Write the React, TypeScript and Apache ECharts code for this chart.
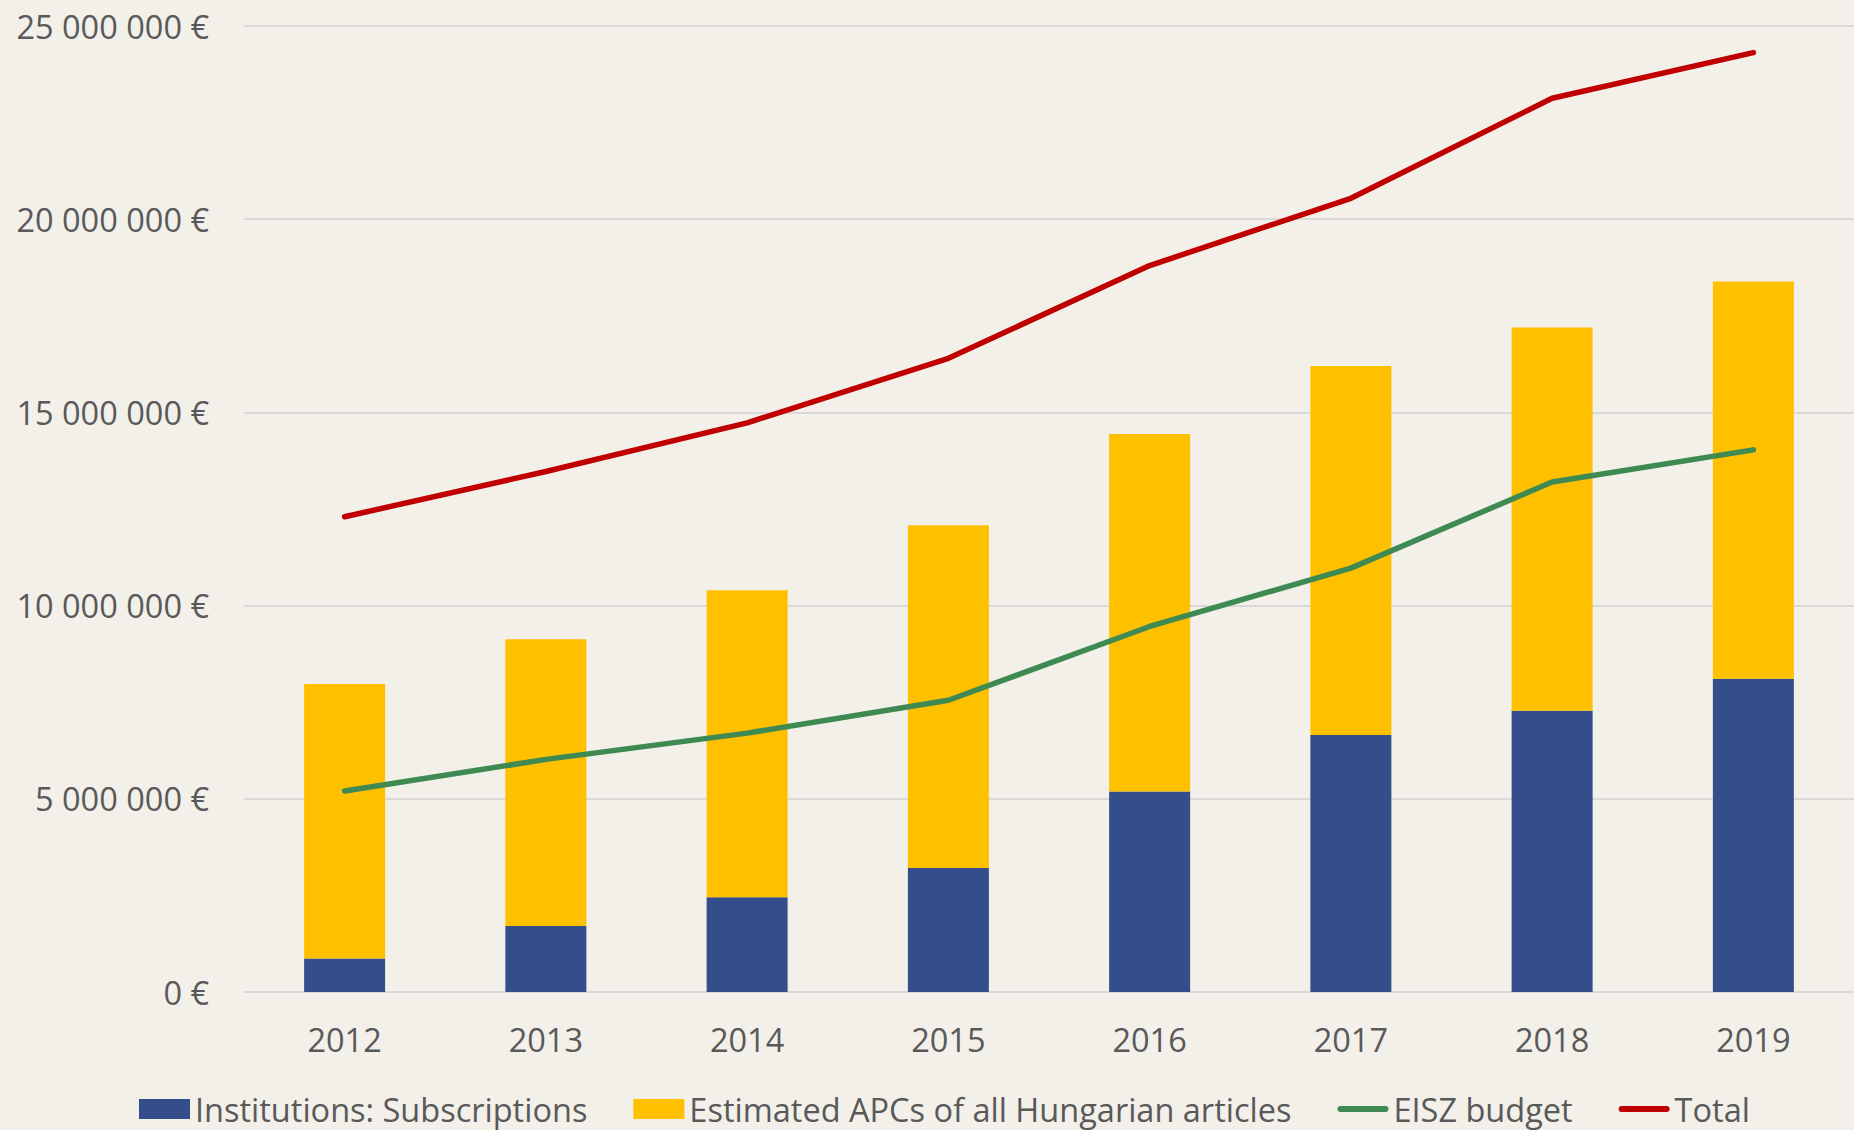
import React, { useEffect, useRef } from "react";
import * as echarts from "echarts";

const categories = ["2012", "2013", "2014", "2015", "2016", "2017", "2018", "2019"];
const subscriptions = [870000, 1710000, 2450000, 3210000, 5190000, 6650000, 7280000, 8110000];
const apcs = [7100000, 7420000, 7950000, 8870000, 9250000, 9550000, 9920000, 10280000];
const eiszBudget = [5200000, 6020000, 6700000, 7550000, 9460000, 10970000, 13200000, 14030000];
const total = [12300000, 13470000, 14730000, 16400000, 18800000, 20540000, 23130000, 24310000];

const seriesNames = [
  "Institutions: Subscriptions",
  "Estimated APCs of all Hungarian articles",
  "EISZ budget",
  "Total",
];

const fmt = (v: number) =>
  String(Math.round(v)).replace(/\B(?=(\d{3})+(?!\d))/g, " ") + " €";

const lineIcon = "path://M3,0 L48,0 A3,3 0 0 1 48,6 L3,6 A3,3 0 0 1 3,0 Z";

export default function App() {
  const ref = useRef<HTMLDivElement>(null);
  useEffect(() => {
    if (!ref.current) return;
    const chart = echarts.init(ref.current, null, { renderer: "svg" });
    const font = "Open Sans";
    const textColor = "#595959";
    const fs = 32.5;
    chart.setOption({
      animation: false,
      backgroundColor: "#F2F0E9",
      textStyle: { fontFamily: font },
      grid: { left: 244, right: 0, top: 26, bottom: 138, containLabel: false },
      legend: {
        left: 139,
        top: 1092,
        padding: 0,
        itemWidth: 51,
        itemHeight: 20,
        itemGap: 46,
        symbolKeepAspect: true,
        textStyle: { color: textColor, fontSize: fs, fontFamily: font, lineHeight: 34 },
        data: [
          { name: seriesNames[0], icon: "rect" },
          { name: seriesNames[1], icon: "rect" },
          { name: seriesNames[2], icon: lineIcon },
          { name: seriesNames[3], icon: lineIcon },
        ],
      },
      xAxis: {
        type: "category",
        data: categories,
        axisLine: { show: true, lineStyle: { color: "#D9D9D9", width: 2 } },
        axisTick: { show: false },
        axisLabel: { color: textColor, fontSize: fs, fontFamily: font, margin: 31 },
      },
      yAxis: {
        type: "value",
        min: 0,
        max: 25000000,
        interval: 5000000,
        axisLine: { show: false },
        axisTick: { show: false },
        splitLine: { lineStyle: { color: "#D9D9D9", width: 2 } },
        axisLabel: {
          color: textColor,
          fontSize: fs,
          fontFamily: font,
          margin: 35,
          formatter: (v: number) => fmt(v),
        },
      },
      series: [
        {
          name: seriesNames[0],
          type: "bar",
          stack: "s",
          barWidth: 81,
          data: subscriptions,
          itemStyle: { color: "#334E8A" },
        },
        {
          name: seriesNames[1],
          type: "bar",
          stack: "s",
          barWidth: 81,
          data: apcs,
          itemStyle: { color: "#FFC000" },
        },
        {
          name: seriesNames[2],
          type: "line",
          data: eiszBudget,
          symbol: "none",
          lineStyle: { color: "#3E8A52", width: 5.5, cap: "round", join: "round" },
          itemStyle: { color: "#3E8A52" },
          z: 3,
        },
        {
          name: seriesNames[3],
          type: "line",
          data: total,
          symbol: "none",
          lineStyle: { color: "#C00000", width: 5.5, cap: "round", join: "round" },
          itemStyle: { color: "#C00000" },
          z: 4,
        },
      ],
    });
    return () => chart.dispose();
  }, []);
  return (
    <div
      ref={ref}
      style={{ position: "fixed", left: 0, top: 0, width: 1854, height: 1130 }}
    />
  );
}
